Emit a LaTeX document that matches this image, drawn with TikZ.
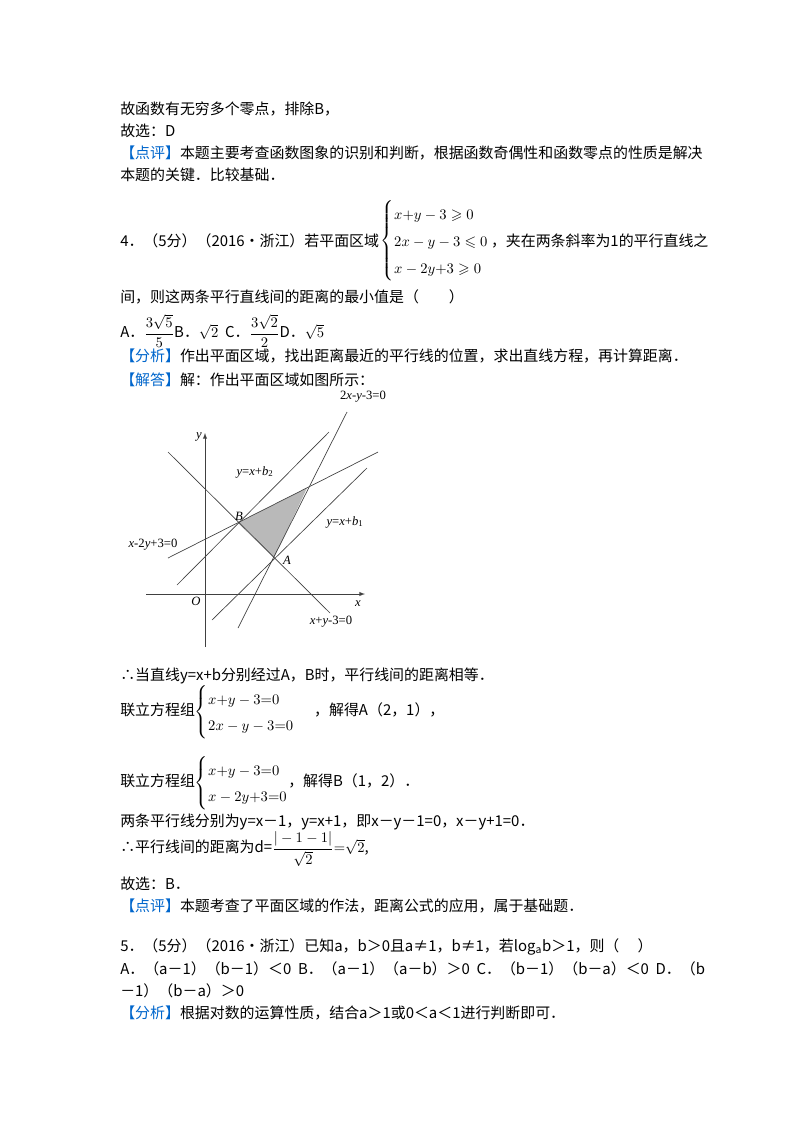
\documentclass[tikz,border=0pt]{standalone}
\usepackage{amsmath,amssymb}
\usepackage{fontspec}
\setmainfont{Noto Sans CJK SC}
\newfontfamily\lsf{Liberation Serif}
\usetikzlibrary{positioning}
\begin{document}
\begin{tikzpicture}[x=0.75pt,y=-0.75pt,
  txt/.style={anchor=west,inner sep=0pt,font=\fontsize{11.2}{13}\selectfont},
  lbl/.style={inner sep=0pt,font=\fontsize{9.5}{10}\selectfont\lsf\itshape},
  gl/.style={line width=0.5pt,black!75}]
\definecolor{tag}{RGB}{0,102,204}
\newcommand{\tg}[1]{\textcolor{tag}{#1}}
\useasboundingbox[fill=white] (0,0) rectangle (800,1132);
\node[txt] (l1) at (120,109) {故函数有无穷多个零点，排除B，};
\node[txt] (l2) at (120,131) {故选：D};
\node[txt] (l3) at (120,153) {\tg{【点评】}本题主要考查函数图象的识别和判断，根据函数奇偶性和函数零点的性质是解决};
\node[txt] (l4) at (120,175) {本题的关键．比较基础．};
\node[txt] (p4) at (120,241) {4．（5分）（2016•浙江）若平面区域};
\node[txt,right=1pt of p4] (s4) {$\renewcommand\arraystretch{1.55}\left\{\begin{array}{@{}l@{}}x{+}y-3\geqslant0\\2x-y-3\leqslant0\\x-2y{+}3\geqslant0\end{array}\right.$};
\node[txt,right=1pt of s4] (p4b) {，夹在两条斜率为1的平行直线之};
\node[txt] (l5) at (120,297) {间，则这两条平行直线间的距离的最小值是（\quad\quad）};
\node[txt] (l6) at (120,331) {A．$\dfrac{3\sqrt5}{5}$B．$\sqrt2$\ \ C．$\dfrac{3\sqrt2}{2}$D．$\sqrt5$};
\node[txt] (l7) at (120,356) {\tg{【分析】}作出平面区域，找出距离最近的平行线的位置，求出直线方程，再计算距离．};
\node[txt] (l8) at (120,380) {\tg{【解答】}解：作出平面区域如图所示：};
% graph
\coordinate (O) at (205,594);
\coordinate (A) at (274,558);
\coordinate (B) at (238,523);
\coordinate (C) at (307,488);
\fill[gray!55] (B) -- (C) -- (A) -- cycle;
\draw[gl,-latex] (146,594) -- (365,594) coordinate (xe);
\draw[gl,-latex] (205,647) -- (205,433) coordinate (ye);
\draw[gl] (168,452) -- (330,613);
\draw[gl] (168,558) -- (378,452);
\draw[gl] (238,628) -- (347,412);
\draw[gl] (177,585) -- (329,432);
\draw[gl] (212,620) -- (367,468);
\node[lbl] (t1) at (363,397) {\upshape 2\itshape x\upshape-\itshape y\upshape-3=0};
\node[lbl] (t2) at (255,472) {y\upshape=\itshape x\upshape+\itshape b\textsubscript{\upshape2}};
\node[lbl] (t3) at (345,522) {y\upshape=\itshape x\upshape+\itshape b\textsubscript{\upshape1}};
\node[lbl] (t4) at (153,545) {x\upshape-2\itshape y\upshape+3=0};
\node[lbl] (t5) at (331,622) {x\upshape+\itshape y\upshape-3=0};
\node[lbl] at (239,516) {B};
\node[lbl] at (287,560) {A};
\node[lbl] at (196,601) {O};
\node[lbl] at (358,604) {x};
\node[lbl] at (199,437) {y};
\node[txt] (l9) at (120,676) {∴当直线y=x+b分别经过A，B时，平行线间的距离相等．};
\node[txt] (l10) at (120,712) {联立方程组$\renewcommand\arraystretch{1.5}\left\{\begin{array}{@{}l@{}}x{+}y-3{=}0\\2x-y-3{=}0\end{array}\right.$\hspace{1.3em}，解得A（2，1），};
\node[txt] (l11) at (120,783) {联立方程组$\renewcommand\arraystretch{1.5}\left\{\begin{array}{@{}l@{}}x{+}y-3{=}0\\x-2y{+}3{=}0\end{array}\right.$，解得B（1，2）．};
\node[txt] (l12) at (120,822) {两条平行线分别为y=x－1，y=x+1，即x－y－1=0，x－y+1=0．};
\node[txt] (l13) at (120,849) {∴平行线间的距离为d=$\dfrac{|-1-1|}{\sqrt2}{=}\sqrt2$,};
\node[txt] (l14) at (120,884) {故选：B．};
\node[txt] (l15) at (120,906) {\tg{【点评】}本题考查了平面区域的作法，距离公式的应用，属于基础题．};
\node[txt] (l16) at (120,947) {5．（5分）（2016•浙江）已知a，b＞0且a≠1，b≠1，若log\textsubscript{a}b＞1，则（\quad\ ）};
\node[txt] (l17) at (120,969) {A．（a－1）（b－1）＜0\ \ B．（a－1）（a－b）＞0\ \ C．（b－1）（b－a）＜0\ \ D．（b};
\node[txt] (l18) at (120,991) {－1）（b－a）＞0};
\node[txt] (l19) at (120,1013) {\tg{【分析】}根据对数的运算性质，结合a＞1或0＜a＜1进行判断即可．};
\end{tikzpicture}
\end{document}
